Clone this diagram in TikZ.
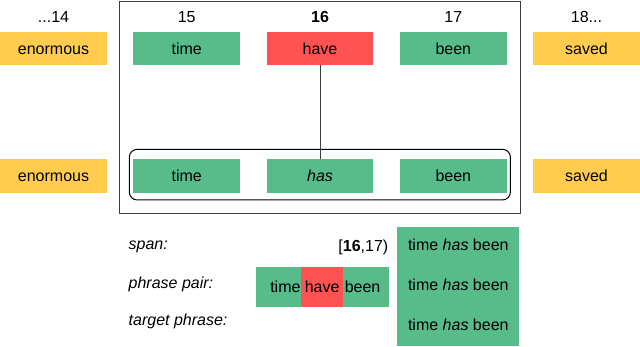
\documentclass[tikz,border=0pt]{standalone}
\usepackage{fontspec}
\setmainfont{Liberation Sans}
\definecolor{cgreen}{RGB}{87,187,138}
\definecolor{cred}{RGB}{255,82,82}
\definecolor{cyellow}{RGB}{255,204,80}
\definecolor{cline}{RGB}{60,60,60}
\begin{document}
\begin{tikzpicture}[x=1pt,y=-1pt,
  every node/.style={font=\fontsize{16}{19}\selectfont, inner sep=0pt},
  cell/.style={rectangle, minimum width=106.7pt, minimum height=33.4pt, text height=11.5pt, text depth=0pt},
  gcell/.style={cell, fill=cgreen},
  rcell/.style={cell, fill=cred},
  ycell/.style={cell, fill=cyellow},
  pcell/.style={rectangle, minimum height=40pt, text height=11.5pt, text depth=0pt},
  idx/.style={anchor=center},
  lab/.style={anchor=base west, font=\fontsize{16}{19}\selectfont\itshape}
]
\useasboundingbox (0,0) rectangle (640,347);

% outer frame
\draw[cline, line width=0.9pt] (119.6,1.5) rectangle (520,213.3);

% index labels
\node[idx] (i14) at (53.5,16.7) {...14};
\node[idx] (i15) at (186.7,16.7) {15};
\node[idx] (i16) at (320,16.7) {\textbf{16}};
\node[idx] (i17) at (453.3,16.7) {17};
\node[idx] (i18) at (586.5,16.7) {18...};

% source row
\node[ycell, minimum width=107pt] (enor1) at (53.5,48.4) {enormous};
\node[gcell] (time1) at (186.7,48.4) {time};
\node[rcell] (have1) at (320,48.4) {have};
\node[gcell] (been1) at (453.3,48.4) {been};
\node[ycell, minimum width=107pt] (saved1) at (586.5,48.4) {saved};

% target row
\node[ycell, minimum width=107pt] (enor2) at (53.5,176) {enormous};
\node[gcell] (time2) at (186.7,176) {time};
\node[gcell] (has2) at (320,176) {\textit{has}};
\node[gcell] (been2) at (453.3,176) {been};
\node[ycell, minimum width=107pt] (saved2) at (586.5,176) {saved};

\draw[black, line width=1pt, rounded corners=8pt] (129.3,149.3) rectangle (510.4,200);

\draw[cline, line width=0.9pt] (have1.south) -- (has2.north);

% bottom legend
\node[lab] (span) at (128.5,249.5) {span:};
\node[lab] (pp) at (128.5,288.5) {phrase pair:};
\node[lab] (tp) at (128.5,326) {target phrase:};

\node[anchor=base east] (spanval) at (388.5,251.5) {[\textbf{16},17)};

\node[pcell, fill=cgreen, minimum width=45.3pt, text width=44.3pt, align=right] (ppt) at (278.35,286.7) {time};
\node[pcell, fill=cred, minimum width=42.3pt] (pph) at (322.15,286.7) {have};
\node[pcell, fill=cgreen, minimum width=45.7pt, text width=44.7pt, align=left] (ppb) at (366.15,286.7) {\hspace{1pt}been};

\node[rectangle, fill=cgreen, minimum width=122pt, minimum height=119.3pt] (tgt) at (458.3,286.35) {};
\node[anchor=base] (t1) at (tgt.center |- 0,250.7) {time \textit{has} been};
\node[anchor=base] (t2) at (tgt.center |- 0,290.7) {time \textit{has} been};
\node[anchor=base] (t3) at (tgt.center |- 0,330.7) {time \textit{has} been};
\end{tikzpicture}
\end{document}
